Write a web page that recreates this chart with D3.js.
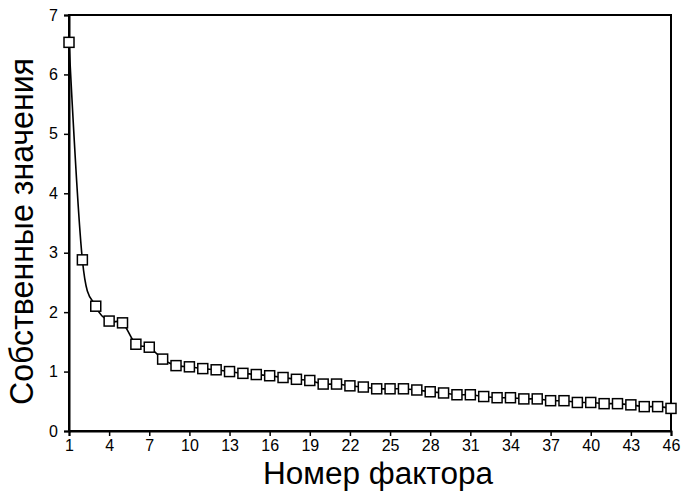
<!DOCTYPE html>
<html>
<head>
<meta charset="utf-8">
<script src="https://cdn.jsdelivr.net/npm/d3@7"></script>
<style>
  html, body { margin: 0; padding: 0; background: #fff; }
  svg { display: block; }
</style>
</head>
<body>
<svg id="chart" width="681" height="492"></svg>
<script>
const factors = [1,2,3,4,5,6,7,8,9,10,11,12,13,14,15,16,17,18,19,20,21,22,23,24,25,26,27,28,29,30,31,32,33,34,35,36,37,38,39,40,41,42,43,44,45,46];
const eigenvalues = [6.54,2.88,2.10,1.85,1.82,1.46,1.41,1.21,1.10,1.08,1.05,1.03,1.00,0.97,0.95,0.93,0.90,0.87,0.85,0.79,0.79,0.76,0.74,0.71,0.71,0.71,0.69,0.66,0.64,0.61,0.61,0.58,0.56,0.56,0.54,0.54,0.51,0.51,0.48,0.48,0.46,0.46,0.44,0.41,0.41,0.38];
const xTickValues = [1,4,7,10,13,16,19,22,25,28,31,34,37,40,43,46];
const yTickValues = [0,1,2,3,4,5,6,7];
const xTitle = "Номер фактора";
const yTitle = "Собственные значения";

(function () {
const svg = d3.select("#chart");
const mLeft = 69, mRight = 671, mTop = 15, mBottom = 431;

const x = d3.scaleLinear().domain([1, 46]).range([mLeft, mRight]);
const y = d3.scaleLinear().domain([0, 7]).range([mBottom, mTop]);

const font = "'Liberation Sans', Arial, sans-serif";

// frame
svg.append("rect")
  .attr("x", mLeft).attr("y", mTop)
  .attr("width", mRight - mLeft).attr("height", mBottom - mTop)
  .attr("fill", "none").attr("stroke", "#000").attr("stroke-width", 2);

// x axis
const xAxis = svg.append("g")
  .attr("transform", `translate(0,${mBottom})`)
  .call(d3.axisBottom(x).tickValues(xTickValues).tickSize(5).tickPadding(4).tickFormat(d3.format("d")));
xAxis.select(".domain").attr("stroke-width", 2);
xAxis.selectAll(".tick line").attr("stroke-width", 1.5);
xAxis.selectAll("text").attr("font-family", font).attr("font-size", 16).attr("fill", "#000");

// y axis
const yAxis = svg.append("g")
  .attr("transform", `translate(${mLeft},0)`)
  .call(d3.axisLeft(y).tickValues(yTickValues).tickSize(5).tickPadding(6).tickFormat(d3.format("d")));
yAxis.select(".domain").attr("stroke-width", 2);
yAxis.selectAll(".tick line").attr("stroke-width", 1.5);
yAxis.selectAll("text").attr("font-family", font).attr("font-size", 16).attr("fill", "#000");

// line
const pts = factors.map((f, i) => [f, eigenvalues[i]]);
const line = d3.line()
  .x(d => x(d[0])).y(d => y(d[1]))
  .curve(d3.curveCatmullRom.alpha(0));
svg.append("path")
  .datum(pts)
  .attr("d", line)
  .attr("fill", "none").attr("stroke", "#000").attr("stroke-width", 1.6);

// markers
const s = 10;
svg.append("g").selectAll("rect")
  .data(pts)
  .join("rect")
  .attr("x", d => x(d[0]) - s / 2)
  .attr("y", d => y(d[1]) - s / 2)
  .attr("width", s).attr("height", s)
  .attr("fill", "#fff").attr("stroke", "#000").attr("stroke-width", 1.5);

// titles
svg.append("text")
  .attr("x", 378).attr("y", 484)
  .attr("text-anchor", "middle")
  .attr("font-family", font).attr("font-size", 31)
  .attr("textLength", 230).attr("lengthAdjust", "spacingAndGlyphs")
  .text(xTitle);

svg.append("text")
  .attr("transform", `translate(33,231.5) rotate(-90)`)
  .attr("text-anchor", "middle")
  .attr("font-family", font).attr("font-size", 34)
  .attr("textLength", 347).attr("lengthAdjust", "spacingAndGlyphs")
  .text(yTitle);
})();
</script>
</body>
</html>
